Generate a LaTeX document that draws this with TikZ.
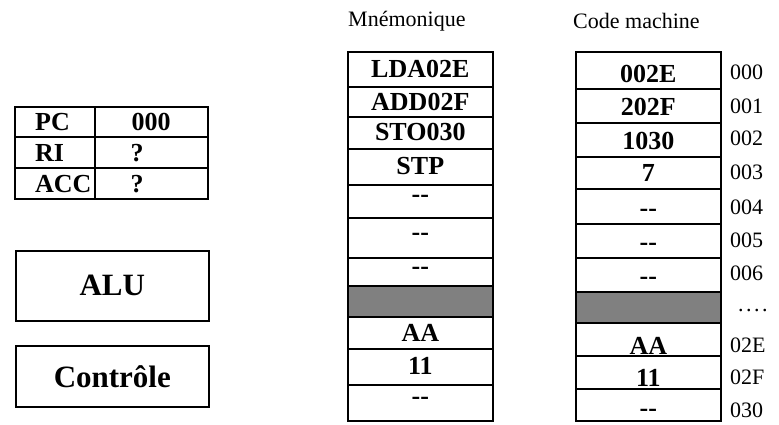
\documentclass[tikz,border=0pt]{standalone}
\usepackage{fontspec}
\setmainfont{Liberation Serif}
\begin{document}
\begin{tikzpicture}[x=1pt,y=-1pt,
  frame/.style={draw=black, line width=1.6pt},
  memcell/.style={frame, inner sep=0pt, minimum width=145pt, anchor=north west},
  celltext/.style={inner sep=0pt, font=\fontsize{26}{26}\selectfont\bfseries},
  regtext/.style={inner sep=0pt, font=\fontsize{26}{26}\selectfont\bfseries},
  unit/.style={frame, inner sep=0pt, minimum width=193pt, anchor=north west,
    font=\fontsize{31}{31}\selectfont\bfseries},
  header/.style={inner sep=0pt, anchor=west, font=\fontsize{22}{22}\selectfont},
  addr/.style={inner sep=0pt, anchor=west, font=\fontsize{22}{22}\selectfont}]
\useasboundingbox (0,0) rectangle (779,425);

% register block: PC, RI, ACC
\draw[frame] (15,107) rectangle (208,199);
\draw[frame] (95,107) -- (95,199);
\draw[frame] (15,137) -- (208,137);
\draw[frame] (15,168) -- (208,168);
\node[regtext, anchor=west] (pcname) at (35,122) {PC};
\node[regtext] (pcval) at (151,122) {000};
\node[regtext, anchor=west] (riname) at (35,153) {RI};
\node[regtext] (rival) at (137,153) {?};
\node[regtext, anchor=west] (accname) at (35,184) {ACC};
\node[regtext] (accval) at (137,184) {?};

% processing units
\node[unit, minimum height=70pt] (alu) at (15,250) {ALU};
\node[unit, minimum height=61pt] (ctrl) at (15,345) {Contrôle};

% column headers
\node[header] (hmn) at (348,21) {Mnémonique};
\node[header] (hcm) at (573,21) {Code machine};

% mnemonic column: cell top / bottom / text / fill / text shift
\foreach \t/\b/\txt/\bg/\dy [count=\i] in {
  51/86/LDA02E/white/0, 86/116/ADD02F/white/0, 116/148/STO030/white/-1,
  148/184/STP/white/-1, 184/217/{{-}{-}}/white/-2, 217/257/{{-}{-}}/white/-1,
  257/285/{{-}{-}}/white/-1, 285/316/{}/gray/0, 316/348/AA/white/0,
  348/384/11/white/-1, 384/420/{{-}{-}}/white/-2} {
  \pgfmathsetmacro\h{\b-\t}
  \node[memcell, fill=\bg, minimum height=\h pt] (mn\i) at (347,\t) {};
  \node[celltext, yshift=-\dy pt] (mnt\i) at (mn\i.center) {\txt};
}

% machine code column
\foreach \t/\b/\txt/\bg/\dy [count=\i] in {
  51/88/002E/white/4, 88/122/202F/white/1, 122/156/1030/white/1,
  156/188/7/white/0, 188/223/{{-}{-}}/white/7, 223/257/{{-}{-}}/white/6,
  257/291/{{-}{-}}/white/6, 291/322/{}/gray/0, 322/355/AA/white/7,
  355/388/11/white/6, 388/420/{{-}{-}}/white/8} {
  \pgfmathsetmacro\h{\b-\t}
  \node[memcell, fill=\bg, minimum height=\h pt] (mc\i) at (575,\t) {};
  \node[celltext, yshift=-\dy pt] (mct\i) at (mc\i.center) {\txt};
}

% addresses
\foreach \y/\a [count=\i] in {72/000, 106/001, 138/002, 172/003, 207/004,
  240/005, 273/006, 345/02E, 377/02F, 410/030} {
  \node[addr] (ad\i) at (730,\y) {\a};
}
\node[addr] (adgap) at (738,311) {.\hspace{2.5pt}.\hspace{2.5pt}.\hspace{2.5pt}.};
\end{tikzpicture}
\end{document}
